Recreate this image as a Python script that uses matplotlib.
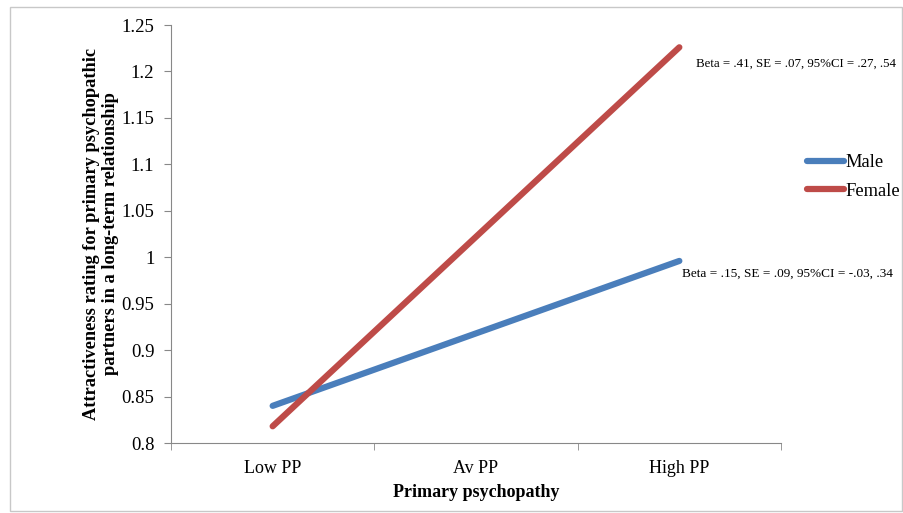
import matplotlib.pyplot as plt
from matplotlib.patches import Rectangle

# categories and series values
categories = ['Low PP', 'Av PP', 'High PP']
male = [0.840, 0.918, 0.996]
female = [0.818, 1.022, 1.226]
male_note = 'Beta = .15, SE = .09, 95%CI = -.03, .34'
female_note = 'Beta = .41, SE = .07, 95%CI = .27, .54'
y_ticks = [0.8, 0.85, 0.9, 0.95, 1, 1.05, 1.1, 1.15, 1.2, 1.25]

plt.rcParams['font.family'] = ['Liberation Serif', 'DejaVu Serif']

fig = plt.figure(figsize=(9.04, 5.13), dpi=100)
# light border round the whole chart
fig.patches.append(Rectangle((10 / 904, 2 / 513), 892 / 904, 504 / 513,
                             transform=fig.transFigure, fill=False,
                             edgecolor='#c8c8c8', linewidth=1))

ax = fig.add_axes([171 / 904, 70 / 513, 610 / 904, 418 / 513])

x = list(range(len(categories)))
ax.plot(x, male, color='#4A7EBB', linewidth=4.5, solid_capstyle='round', label='Male')
ax.plot(x, female, color='#BE4B48', linewidth=4.5, solid_capstyle='round', label='Female')

ax.set_xlim(-0.5, len(categories) - 0.5)
ax.set_ylim(0.8, 1.25)
ax.set_yticks(y_ticks)
ax.set_yticklabels([('%g' % v) for v in y_ticks], fontsize=13.5)
ax.set_xticks(x)
ax.set_xticklabels(categories, fontsize=13)
ax.set_xticks([-0.5, 0.5, 1.5, 2.5], minor=True)
ax.tick_params(axis='x', which='major', length=0, pad=12)
ax.tick_params(axis='x', which='minor', length=5, color='#888888')
ax.tick_params(axis='y', length=5, color='#888888', pad=7)

for side in ['top', 'right']:
    ax.spines[side].set_visible(False)
for side in ['left', 'bottom']:
    ax.spines[side].set_color('#888888')

ax.set_xlabel('Primary psychopathy', fontsize=13, fontweight='bold', labelpad=5)
ax.set_ylabel('Attractiveness rating for primary psychopathic\npartners in a long-term relationship',
              fontsize=13.2, fontweight='bold', linespacing=1.15, labelpad=2)

ax.annotate(female_note, xy=(x[-1], female[-1]), xytext=(12, -12),
            textcoords='offset points', fontsize=9.3, va='center', ha='left',
            annotation_clip=False)
ax.annotate(male_note, xy=(x[-1], male[-1]), xytext=(2, -9),
            textcoords='offset points', fontsize=9.5, va='center', ha='left',
            annotation_clip=False)

ax.legend(loc='center left', bbox_to_anchor=(807 / 904, (513 - 177) / 513),
          bbox_transform=fig.transFigure, frameon=False, fontsize=13.3,
          handlelength=2.0, handletextpad=0.1, labelspacing=0.6,
          borderpad=0, borderaxespad=0)

fig.savefig('out.png', dpi=100)
